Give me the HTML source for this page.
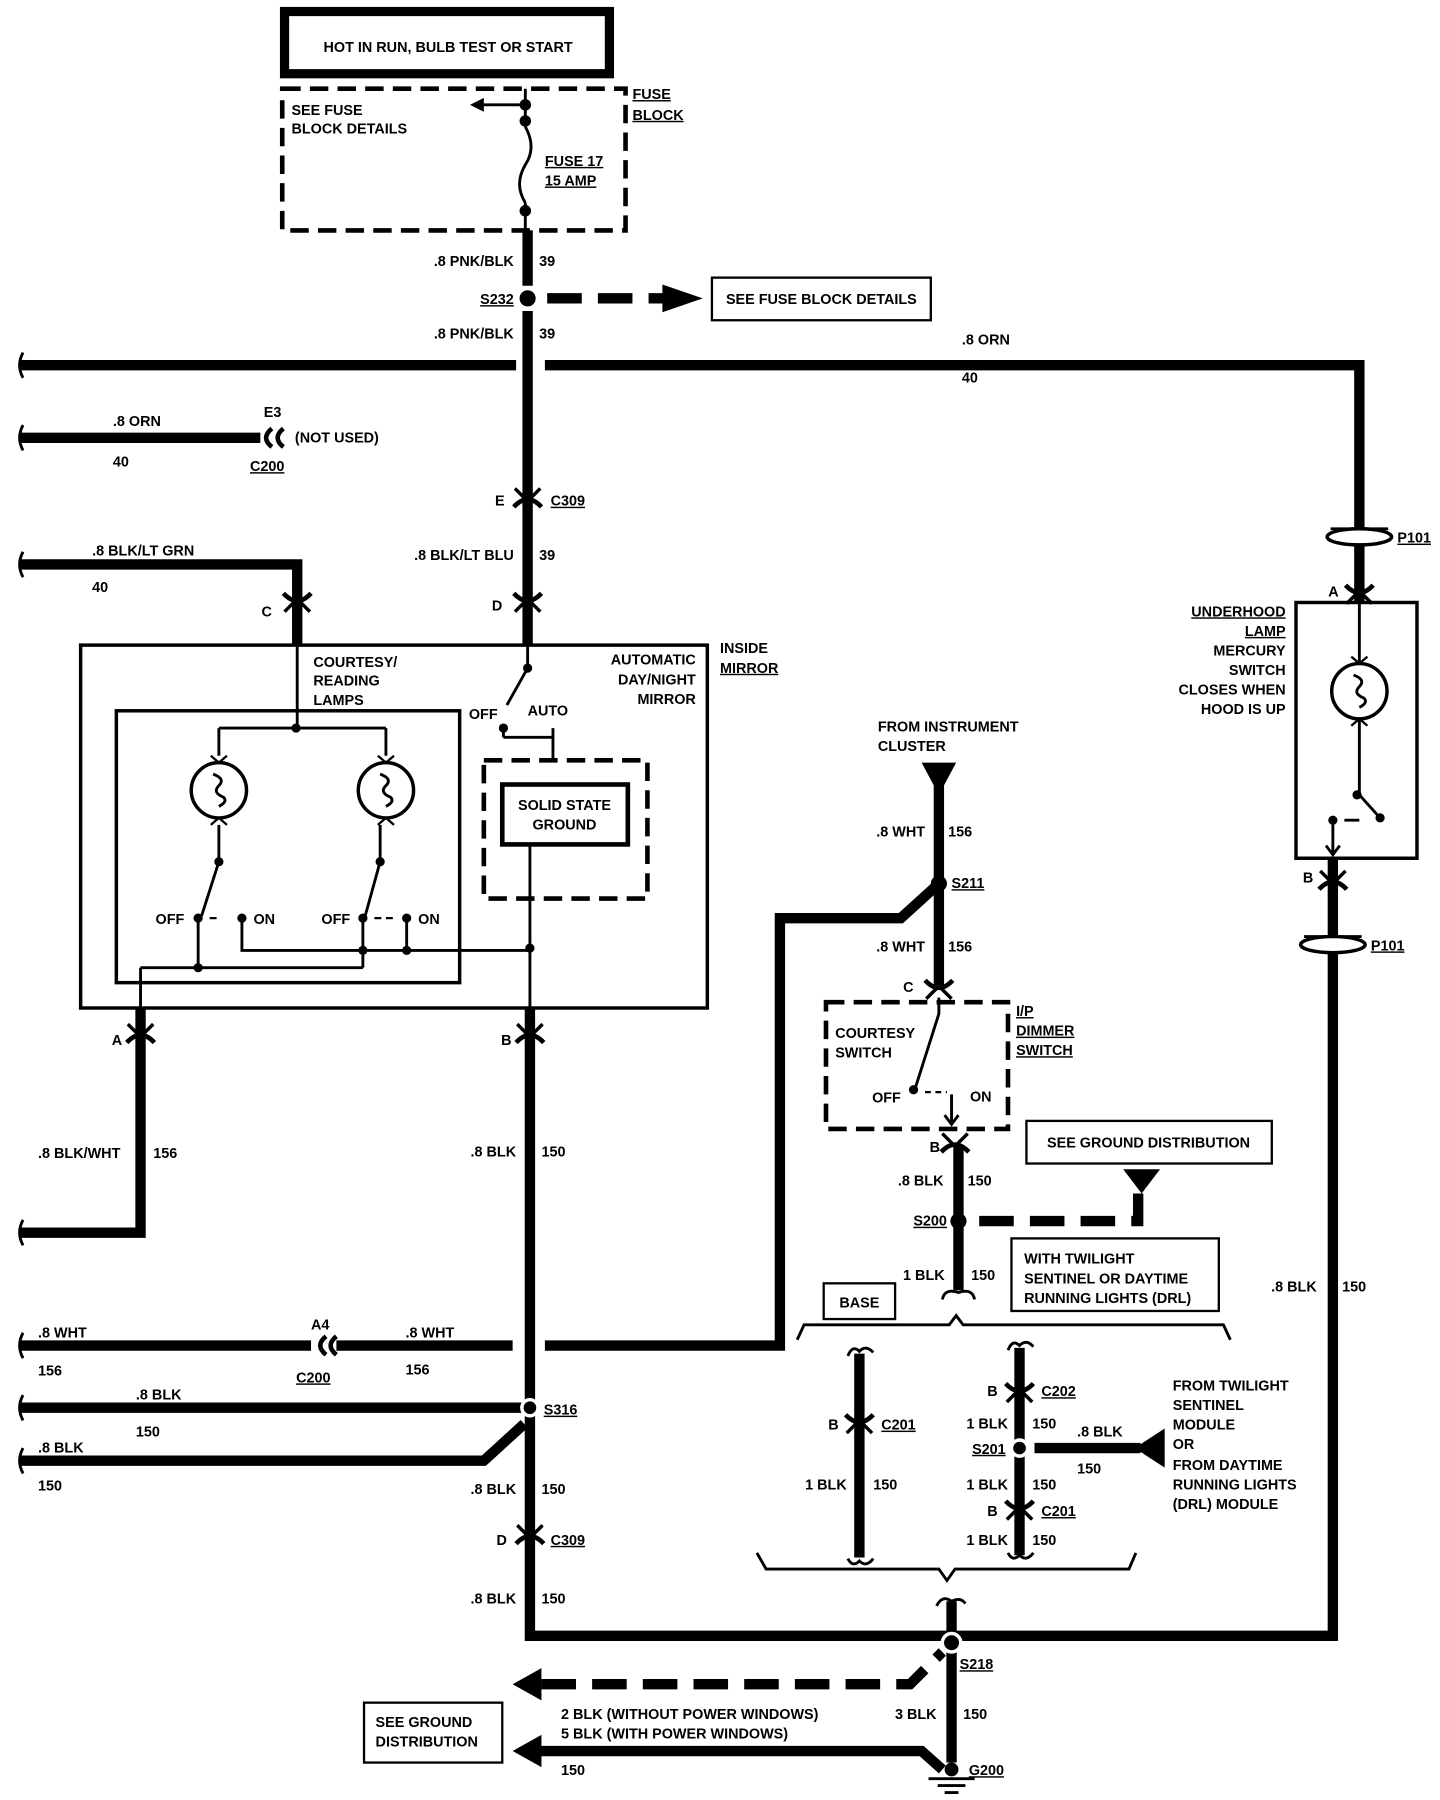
<!DOCTYPE html>
<html><head><meta charset="utf-8"><style>
html,body{margin:0;padding:0;background:#fff}
svg{display:block}
text{font-family:"Liberation Sans",sans-serif;font-weight:bold;font-size:12.5px;fill:#000}
.r{text-anchor:end}.m{text-anchor:middle}
.u{text-decoration:underline}
.w{stroke:#000;stroke-width:9;fill:none}
.t{stroke:#000;stroke-width:2.5;fill:none}
.d{stroke:#000;stroke-width:9;fill:none;stroke-dasharray:30 14}
.ds{stroke:#000;stroke-width:4;fill:none;stroke-dasharray:16 8}
</style></head><body>
<svg width="1440" height="1800" viewBox="0 0 1250 1562.5" xmlns="http://www.w3.org/2000/svg">
<defs>
<g id="cv"><path d="M-11 -9 L0 2 L11 -9" stroke="#000" stroke-width="3" fill="none"/><path d="M-12 7 Q0 -6 12 7" stroke="#000" stroke-width="4" fill="none"/></g>
<g id="cu"><path d="M-11 9 L0 -2 L11 9" stroke="#000" stroke-width="3" fill="none"/><path d="M-12 -7 Q0 6 12 -7" stroke="#000" stroke-width="4" fill="none"/></g>
<g id="bulb"><circle r="24" stroke="#000" stroke-width="3" fill="none"/><path d="M-5 -14 Q6 -10 0 -4 Q-6 2 4 6 Q8 10 0 14" stroke="#000" stroke-width="2.5" fill="none"/><path d="M-7 -30 L0 -24 L7 -30 M-7 30 L0 24 L7 30" stroke="#000" stroke-width="2" fill="none"/></g>
</defs>
<!-- top box -->
<rect x="247" y="10" width="282" height="54" fill="none" stroke="#000" stroke-width="8"/>
<text x="389" y="45" class="m">HOT IN RUN, BULB TEST OR START</text>
<rect x="245" y="77" width="298" height="123" class="ds"/>
<text x="549" y="86" class="u">FUSE</text><text x="549" y="104" class="u">BLOCK</text>
<text x="253" y="100">SEE FUSE</text><text x="253" y="116">BLOCK DETAILS</text>
<path d="M456 77 V110 M456 176 V200" class="t"/><path d="M456 91 H418" class="t"/><path d="M408 91 L420 85 L420 97Z"/>
<circle cx="456" cy="91" r="5"/><circle cx="456" cy="105" r="5"/><circle cx="456" cy="183" r="5"/>
<path d="M456 110 Q466 128 456 143 Q446 160 456 176" class="t"/>
<text x="473" y="144" class="u">FUSE 17</text><text x="473" y="161" class="u">15 AMP</text>
<path d="M458 200 V560" class="w"/>
<path d="M458 248 V270" stroke="#fff" stroke-width="12"/>
<text x="446" y="231" class="r">.8 PNK/BLK</text><text x="468" y="231">39</text>
<circle cx="458" cy="259" r="7"/><text x="446" y="264" class="r u">S232</text>
<path d="M475 259 H580" class="d"/><path d="M575 247 L610 259 L575 271Z"/>
<rect x="618" y="241" width="190" height="37" fill="none" stroke="#000" stroke-width="2"/>
<text x="713" y="264" class="m">SEE FUSE BLOCK DETAILS</text>
<text x="446" y="294" class="r">.8  PNK/BLK</text><text x="468" y="294">39</text>
<path d="M18 317 H448" class="w"/><path d="M20 306 Q14 317 20 328" class="t"/>
<path d="M473 317 H1180 V523" class="w"/>
<text x="835" y="299">.8 ORN</text><text x="835" y="332">40</text>
<path d="M18 380 H226" class="w"/><path d="M20 369 Q14 380 20 391" class="t"/>
<path d="M236 372 Q226 380 236 388 M246 372 Q236 380 246 388" stroke="#000" stroke-width="4" fill="none"/>
<text x="229" y="362">E3</text><text x="256" y="384">(NOT USED)</text><text x="217" y="409" class="u">C200</text>
<text x="98" y="370">.8 ORN</text><text x="98" y="405">40</text>
<use href="#cv" x="458" y="433"/><text x="438" y="439" class="r">E</text><text x="478" y="439" class="u">C309</text>
<text x="446" y="486" class="r">.8 BLK/LT BLU</text><text x="468" y="486">39</text>
<use href="#cu" x="458" y="522"/><text x="436" y="530" class="r">D</text>
<path d="M18 490 H258 V560" class="w"/><path d="M20 479 Q14 490 20 501" class="t"/>
<text x="80" y="482">.8 BLK/LT GRN</text><text x="80" y="514">40</text>
<use href="#cu" x="258" y="522"/><text x="236" y="535" class="r">C</text>
<!-- mirror -->
<rect x="70" y="560" width="544" height="315" fill="none" stroke="#000" stroke-width="3"/>
<rect x="101" y="617" width="298" height="236" fill="none" stroke="#000" stroke-width="3"/>
<text x="625" y="567">INSIDE</text><text x="625" y="584" class="u">MIRROR</text>
<text x="272" y="579">COURTESY/</text><text x="272" y="595">READING</text><text x="272" y="612">LAMPS</text>
<text x="604" y="577" class="r">AUTOMATIC</text><text x="604" y="594" class="r">DAY/NIGHT</text><text x="604" y="611" class="r">MIRROR</text>
<path d="M458 560 V580 L440 612" class="t"/><circle cx="458" cy="580" r="4"/><circle cx="437" cy="632" r="4"/>
<text x="407" y="624">OFF</text><text x="458" y="621">AUTO</text>
<path d="M437 632 V640 M437 640 H480 M480 632 V660" class="t"/>
<rect x="420" y="660" width="142" height="120" class="ds"/>
<rect x="436" y="681" width="109" height="52" fill="none" stroke="#000" stroke-width="4"/>
<text x="490" y="703" class="m">SOLID STATE</text><text x="490" y="720" class="m">GROUND</text>
<path d="M460 733 V880" class="t"/>
<path d="M258 560 V632 M190 632 H335 M190 632 V656 M335 632 V656" class="t"/><circle cx="257" cy="632" r="4"/>
<use href="#bulb" x="190" y="686"/><use href="#bulb" x="335" y="686"/>
<path d="M190 716 V748 L175 795 M172 797 V840 M330 716 V748 L317 795 M315 797 V840" class="t"/>
<circle cx="190" cy="748" r="4"/><circle cx="330" cy="748" r="4"/><circle cx="172" cy="797" r="4"/><circle cx="315" cy="797" r="4"/>
<circle cx="210" cy="797" r="4"/><circle cx="353" cy="797" r="4"/>
<text x="135" y="802">OFF</text><text x="220" y="802">ON</text><text x="279" y="802">OFF</text><text x="363" y="802">ON</text>
<path d="M182 797 H192 M325 797 H345" stroke="#000" stroke-width="2" stroke-dasharray="6 4"/>
<path d="M210 797 V825 H460 M353 797 V825 M122 840 H315 M122 840 V880" class="t"/>
<circle cx="315" cy="825" r="4"/><circle cx="353" cy="825" r="4"/><circle cx="460" cy="823" r="4"/><circle cx="172" cy="840" r="4"/>
<use href="#cv" x="122" y="898"/><text x="106" y="907" class="r">A</text>
<path d="M122 875 V1070 H18" class="w"/><path d="M20 1059 Q14 1070 20 1081" class="t"/>
<text x="33" y="1005">.8 BLK/WHT</text><text x="133" y="1005">156</text>
<use href="#cv" x="460" y="898"/><text x="444" y="907" class="r">B</text>
<path d="M460 875 V1420 H826" class="w"/>
<text x="448" y="1004" class="r">.8 BLK</text><text x="470" y="1004">150</text>
<!-- right -->
<ellipse cx="1180" cy="466" rx="28" ry="7" fill="#fff" stroke="#000" stroke-width="3"/><path d="M1155 459 H1205" class="t"/>
<text x="1213" y="471" class="u">P101</text>
<use href="#cu" x="1180" y="515"/><text x="1162" y="518" class="r">A</text>
<rect x="1125" y="523" width="105" height="222" fill="none" stroke="#000" stroke-width="3"/>
<text x="1116" y="535" class="r u">UNDERHOOD</text><text x="1116" y="552" class="r u">LAMP</text><text x="1116" y="569" class="r">MERCURY</text>
<text x="1116" y="586" class="r">SWITCH</text><text x="1116" y="603" class="r">CLOSES WHEN</text><text x="1116" y="620" class="r">HOOD IS UP</text>
<path d="M1180 523 V576 M1180 624 V690 L1198 710" class="t"/><use href="#bulb" x="1180" y="600"/>
<circle cx="1178" cy="690" r="4"/><circle cx="1198" cy="710" r="4"/><circle cx="1157" cy="712" r="4"/>
<path d="M1157 712 V740 M1167 712 H1180" class="t"/><path d="M1151 734 L1157 742 L1163 734" class="t"/>
<path d="M1157 745 V815" class="w"/>
<use href="#cv" x="1157" y="765"/><text x="1140" y="766" class="r">B</text>
<ellipse cx="1157" cy="820" rx="28" ry="7" fill="#fff" stroke="#000" stroke-width="3"/><path d="M1132 813 H1182" class="t"/>
<text x="1190" y="825" class="u">P101</text>
<path d="M1157 827 V1420 H826" class="w"/>
<text x="1143" y="1121" class="r">.8 BLK</text><text x="1165" y="1121">150</text>
<!-- middle -->
<text x="762" y="635">FROM INSTRUMENT</text><text x="762" y="652">CLUSTER</text>
<path d="M800 662 L830 662 L815 690Z"/>
<path d="M815 680 V855" class="w"/>
<text x="803" y="726" class="r">.8 WHT</text><text x="823" y="726">156</text>
<circle cx="815" cy="767" r="7"/><text x="826" y="771" class="u">S211</text>
<path d="M815 767 L782 797 H677 V1168 H473" class="w"/>
<text x="803" y="826" class="r">.8 WHT</text><text x="823" y="826">156</text>
<use href="#cu" x="815" y="858"/><text x="793" y="861" class="r">C</text>
<rect x="717" y="870" width="158" height="110" class="ds"/>
<text x="882" y="882" class="u">I/P</text><text x="882" y="899" class="u">DIMMER</text><text x="882" y="916" class="u">SWITCH</text>
<text x="725" y="901">COURTESY</text><text x="725" y="918">SWITCH</text>
<path d="M815 866 V880 L795 943 M826 950 V974" class="t"/><circle cx="793" cy="946" r="4"/>
<path d="M803 948 H822" stroke="#000" stroke-width="2" stroke-dasharray="5 4"/>
<path d="M820 968 L826 976 L832 968" class="t"/>
<text x="757" y="957">OFF</text><text x="842" y="956">ON</text>
<use href="#cv" x="829" y="993"/><text x="816" y="1000" class="r">B</text>
<path d="M832 995 V1120" class="w"/>
<text x="819" y="1029" class="r">.8 BLK</text><text x="840" y="1029">150</text>
<circle cx="832" cy="1060" r="7"/><text x="822" y="1064" class="r u">S200</text>
<path d="M850 1060 H988 V1035" class="d"/><path d="M975 1015 L1007 1015 L991 1036Z"/>
<rect x="891" y="973" width="213" height="37" fill="none" stroke="#000" stroke-width="2"/>
<text x="997" y="996" class="m">SEE GROUND DISTRIBUTION</text>
<text x="820" y="1111" class="r">1 BLK</text><text x="843" y="1111">150</text>
<path d="M818 1128 Q820 1118 832 1122 Q844 1118 846 1128" class="t"/>
<rect x="878" y="1075" width="180" height="63" fill="none" stroke="#000" stroke-width="2"/>
<text x="889" y="1097">WITH TWILIGHT</text><text x="889" y="1114">SENTINEL OR DAYTIME</text><text x="889" y="1131">RUNNING LIGHTS (DRL)</text>
<rect x="715" y="1114" width="62" height="31" fill="none" stroke="#000" stroke-width="2"/><text x="746" y="1135" class="m">BASE</text>
<path d="M692 1163 L698 1150 H824 L830 1142 L836 1150 H1062 L1068 1163" class="t"/>
<!-- lower inner -->
<path d="M746 1175 V1352" class="w" stroke-width="7"/>
<path d="M736 1177 Q740 1167 746 1173 Q752 1167 758 1174 M736 1353 Q740 1361 746 1355 Q752 1361 758 1353" class="t"/>
<use href="#cu" x="746" y="1235"/><text x="728" y="1241" class="r">B</text><text x="765" y="1241" class="u">C201</text>
<text x="735" y="1293" class="r">1 BLK</text><text x="758" y="1293">150</text>
<path d="M885 1170 V1350" class="w" stroke-width="7"/>
<path d="M875 1172 Q879 1162 885 1168 Q891 1162 897 1169 M875 1348 Q879 1356 885 1350 Q891 1356 897 1348" class="t"/>
<use href="#cu" x="885" y="1208"/><text x="866" y="1212" class="r">B</text><text x="904" y="1212" class="u">C202</text>
<text x="875" y="1240" class="r">1 BLK</text><text x="896" y="1240">150</text>
<circle cx="885" cy="1257" r="7" stroke="#fff" stroke-width="3"/><text x="873" y="1262" class="r u">S201</text>
<path d="M898 1257 H990" class="w"/><path d="M985 1257 L1011 1240 L1011 1274Z"/>
<text x="935" y="1247">.8 BLK</text><text x="935" y="1279">150</text>
<text x="875" y="1293" class="r">1 BLK</text><text x="896" y="1293">150</text>
<use href="#cu" x="885" y="1310"/><text x="866" y="1316" class="r">B</text><text x="904" y="1316" class="u">C201</text>
<text x="875" y="1341" class="r">1 BLK</text><text x="896" y="1341">150</text>
<text x="1018" y="1207">FROM TWILIGHT</text><text x="1018" y="1224">SENTINEL</text><text x="1018" y="1241">MODULE</text>
<text x="1018" y="1258">OR</text><text x="1018" y="1276">FROM DAYTIME</text><text x="1018" y="1293">RUNNING LIGHTS</text><text x="1018" y="1310">(DRL) MODULE</text>
<path d="M657 1348 L665 1362 H815 L822 1372 L829 1362 H980 L986 1348" class="t"/>
<path d="M813 1394 Q818 1384 826 1390 Q834 1386 838 1392" class="t"/>
<path d="M826 1390 V1530" class="w"/>
<circle cx="826" cy="1426" r="8" stroke="#fff" stroke-width="3"/><text x="833" y="1449" class="u">S218</text>
<path d="M470 1462 H790 L818 1434" class="d"/><path d="M445 1462 L470 1448 L470 1476Z"/>
<path d="M465 1520 H800 L818 1536" class="w"/><path d="M445 1520 L470 1506 L470 1534Z"/>
<circle cx="826" cy="1536" r="6"/><text x="841" y="1541" class="u">G200</text>
<path d="M806 1544 H846 M814 1550 H838 M820 1556 H832" class="t"/>
<rect x="316" y="1478" width="120" height="52" fill="none" stroke="#000" stroke-width="2"/>
<text x="326" y="1499">SEE GROUND</text><text x="326" y="1516">DISTRIBUTION</text>
<text x="487" y="1492">2 BLK  (WITHOUT POWER WINDOWS)</text><text x="487" y="1509">5 BLK  (WITH POWER WINDOWS)</text><text x="487" y="1541">150</text>
<text x="813" y="1492" class="r">3 BLK</text><text x="836" y="1492">150</text>
<!-- left bottom -->
<path d="M18 1168 H270 M292 1168 H445" class="w"/><path d="M20 1157 Q14 1168 20 1179" class="t"/>
<path d="M283 1160 Q273 1168 283 1176 M292 1160 Q282 1168 292 1176" stroke="#000" stroke-width="4" fill="none"/>
<text x="270" y="1154">A4</text><text x="257" y="1200" class="u">C200</text>
<text x="33" y="1161">.8 WHT</text><text x="33" y="1194">156</text><text x="352" y="1161">.8 WHT</text><text x="352" y="1193">156</text>
<path d="M18 1222 H460" class="w"/><path d="M20 1211 Q14 1222 20 1233" class="t"/>
<circle cx="460" cy="1222" r="7" stroke="#fff" stroke-width="3"/><text x="472" y="1228" class="u">S316</text>
<text x="118" y="1215">.8 BLK</text><text x="118" y="1247">150</text>
<path d="M18 1268 H420 L455 1236" class="w"/><path d="M20 1257 Q14 1268 20 1279" class="t"/>
<text x="33" y="1261">.8 BLK</text><text x="33" y="1294">150</text>
<text x="448" y="1297" class="r">.8 BLK</text><text x="470" y="1297">150</text>
<use href="#cv" x="460" y="1333"/><text x="440" y="1341" class="r">D</text><text x="478" y="1341" class="u">C309</text>
<text x="448" y="1392" class="r">.8 BLK</text><text x="470" y="1392">150</text>
</svg>
</body></html>
